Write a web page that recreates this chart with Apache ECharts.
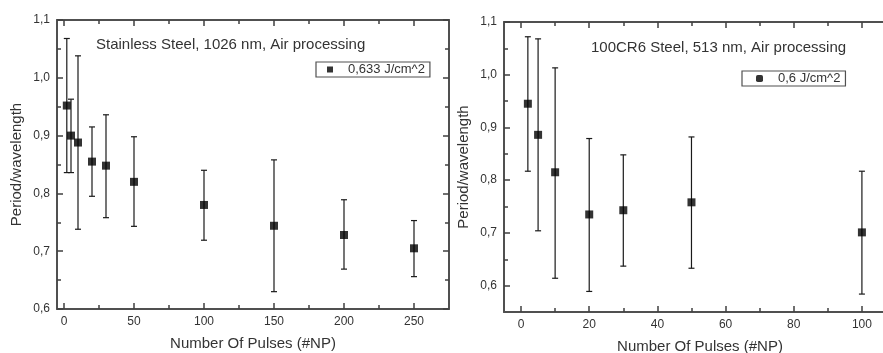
<!DOCTYPE html>
<html>
<head>
<meta charset="utf-8">
<script src="https://cdn.jsdelivr.net/npm/echarts@6/dist/echarts.min.js"></script>
<style>html,body{margin:0;padding:0;background:#fff}#c{width:883px;height:353px}</style>
</head>
<body>
<div id="c"></div>
<script>
// ---- Left chart: Stainless Steel, 1026 nm ----
const leftTitle = 'Stainless Steel, 1026 nm, Air processing';
const leftSeriesName = '0,633 J/cm^2';
const leftX    = [2, 5, 10, 20, 30, 50, 100, 150, 200, 250];
const leftY    = [0.952, 0.900, 0.888, 0.855, 0.848, 0.820, 0.780, 0.744, 0.728, 0.705];
const leftLow  = [0.836, 0.836, 0.738, 0.795, 0.758, 0.743, 0.719, 0.630, 0.669, 0.656];
const leftHigh = [1.068, 0.963, 1.038, 0.915, 0.936, 0.898, 0.840, 0.858, 0.789, 0.753];
const leftXTicks = [0, 50, 100, 150, 200, 250];
const leftXMinor = [25, 75, 125, 175, 225];
const leftYTicks = [0.6, 0.7, 0.8, 0.9, 1.0, 1.1];
const leftYMinor = [0.65, 0.75, 0.85, 0.95, 1.05];

// ---- Right chart: 100CR6 Steel, 513 nm ----
const rightTitle = '100CR6 Steel, 513 nm, Air processing';
const rightSeriesName = '0,6 J/cm^2';
const rightX    = [2, 5, 10, 20, 30, 50, 100];
const rightY    = [0.945, 0.886, 0.815, 0.735, 0.743, 0.758, 0.701];
const rightLow  = [0.817, 0.704, 0.614, 0.589, 0.637, 0.633, 0.584];
const rightHigh = [1.072, 1.068, 1.013, 0.879, 0.848, 0.882, 0.817];
const rightXTicks = [0, 20, 40, 60, 80, 100];
const rightXMinor = [10, 30, 50, 70, 90];
const rightYTicks = [0.6, 0.7, 0.8, 0.9, 1.0, 1.1];
const rightYMinor = [0.65, 0.75, 0.85, 0.95, 1.05];

const xName = 'Number Of Pulses (#NP)';
const yName = 'Period/wavelength';

const FONT = "'Liberation Sans', Arial, sans-serif";
const TXT = '#333';
const AXC = '#505050';
const TKC = '#404040';

function fmtComma(v) { return Number(v).toFixed(1).replace('.', ','); }
function fmtInt(v) { return String(Math.round(v)); }

const grids = [], xAxes = [], yAxes = [];

// kind: 'main' | 'mirror' | 'minorMain' | 'minorMirror'
function addLayer(box, kind, xr, yr) {
  const gi = grids.length;
  grids.push(Object.assign({outerBoundsMode: 'none', containLabel: false}, box));
  const mirror = kind === 'mirror' || kind === 'minorMirror';
  const minor = kind === 'minorMain' || kind === 'minorMirror';
  const mk = (r, dir) => {
    const ax = {
      type: 'value', gridIndex: gi, min: r.min, max: r.max,
      position: dir === 'x' ? (mirror ? 'top' : 'bottom') : (mirror ? 'right' : 'left'),
      splitLine: {show: false},
      axisLine: {show: !minor, onZero: false, lineStyle: {color: AXC, width: 2}},
      axisTick: {show: true, inside: true, length: minor ? 4 : 6,
        customValues: (minor ? r.minor : r.major).slice(),
        lineStyle: {color: TKC, width: 1.5}},
      axisLabel: {show: false}
    };
    if (kind === 'main') {
      ax.axisLabel = {show: true, customValues: r.major.slice(), margin: 7, fontSize: 12,
        color: TXT, fontFamily: FONT, formatter: r.fmt};
      ax.name = r.name;
      ax.nameLocation = 'middle';
      ax.nameGap = r.nameGap;
      ax.nameTextStyle = {fontSize: 15, color: TXT, fontFamily: FONT};
    }
    return ax;
  };
  xAxes.push(mk(xr, 'x'));
  yAxes.push(mk(yr, 'y'));
  return gi;
}

const leftBox = {left: 57, top: 20, width: 392, height: 289};
const rightBox = {left: 504, top: 22, width: 392, height: 290};
const lxr = {min: -5, max: 275, major: leftXTicks, minor: leftXMinor, fmt: fmtInt, name: xName, nameGap: 27};
const lyr = {min: 0.6, max: 1.1, major: leftYTicks, minor: leftYMinor, fmt: fmtComma, name: yName, nameGap: 33};
const rxr = {min: -5, max: 110, major: rightXTicks, minor: rightXMinor, fmt: fmtInt, name: xName, nameGap: 27};
const ryr = {min: 0.55, max: 1.1, major: rightYTicks, minor: rightYMinor, fmt: fmtComma, name: yName, nameGap: 33};

const gL = addLayer(leftBox, 'main', lxr, lyr);
addLayer(leftBox, 'mirror', lxr, lyr);
addLayer(leftBox, 'minorMain', lxr, lyr);
addLayer(leftBox, 'minorMirror', lxr, lyr);
const gR = addLayer(rightBox, 'main', rxr, ryr);
addLayer(rightBox, 'mirror', rxr, ryr);
addLayer(rightBox, 'minorMain', rxr, ryr);
addLayer(rightBox, 'minorMirror', rxr, ryr);

function errRender(params, api) {
  const x = api.value(0), lo = api.value(1), hi = api.value(2);
  const a = api.coord([x, lo]), b = api.coord([x, hi]);
  const hw = 3;
  const st = {stroke: '#1a1a1a', lineWidth: 1.2};
  return {type: 'group', children: [
    {type: 'line', shape: {x1: a[0], y1: a[1], x2: b[0], y2: b[1]}, style: st},
    {type: 'line', shape: {x1: a[0] - hw, y1: a[1], x2: a[0] + hw, y2: a[1]}, style: st},
    {type: 'line', shape: {x1: b[0] - hw, y1: b[1], x2: b[0] + hw, y2: b[1]}, style: st}
  ]};
}

const chart = echarts.init(document.getElementById('c'), null, {renderer: 'canvas'});
chart.setOption({
  animation: false,
  backgroundColor: '#fff',
  textStyle: {fontFamily: FONT},
  title: [
    {text: leftTitle, left: 91, top: 32, textStyle: {fontSize: 15, fontWeight: 'normal', color: TXT, fontFamily: FONT}},
    {text: rightTitle, left: 586, top: 35, textStyle: {fontSize: 15, fontWeight: 'normal', color: TXT, fontFamily: FONT}}
  ],
  legend: [
    {data: [{name: leftSeriesName, icon: 'rect'}], left: 316, top: 62, orient: 'horizontal',
      itemWidth: 6, itemHeight: 6, borderColor: AXC, borderWidth: 1.2, borderRadius: 0,
      padding: [1, 5, 1, 11], selectedMode: false,
      textStyle: {fontSize: 13, color: TXT, fontFamily: FONT, padding: [0, 0, 0, 10]}},
    {data: [{name: rightSeriesName, icon: 'roundRect'}], left: 742, top: 71, orient: 'horizontal',
      itemWidth: 7, itemHeight: 7, borderColor: AXC, borderWidth: 1.2, borderRadius: 0,
      padding: [1, 5, 1, 14], selectedMode: false,
      textStyle: {fontSize: 13, color: TXT, fontFamily: FONT, padding: [0, 0, 0, 10]}}
  ],
  grid: grids,
  xAxis: xAxes,
  yAxis: yAxes,
  series: [
    {type: 'custom', name: 'errL', xAxisIndex: gL, yAxisIndex: gL, renderItem: errRender,
      encode: {x: 0, y: [1, 2]}, data: leftX.map((x, i) => [x, leftLow[i], leftHigh[i]]), z: 2},
    {type: 'scatter', name: leftSeriesName, xAxisIndex: gL, yAxisIndex: gL, symbol: 'rect', symbolSize: 8,
      itemStyle: {color: '#000'}, data: leftX.map((x, i) => [x, leftY[i]]), z: 3},
    {type: 'custom', name: 'errR', xAxisIndex: gR, yAxisIndex: gR, renderItem: errRender,
      encode: {x: 0, y: [1, 2]}, data: rightX.map((x, i) => [x, rightLow[i], rightHigh[i]]), z: 2},
    {type: 'scatter', name: rightSeriesName, xAxisIndex: gR, yAxisIndex: gR, symbol: 'rect', symbolSize: 8,
      itemStyle: {color: '#000'}, data: rightX.map((x, i) => [x, rightY[i]]), z: 3}
  ]
});
</script>
</body>
</html>
